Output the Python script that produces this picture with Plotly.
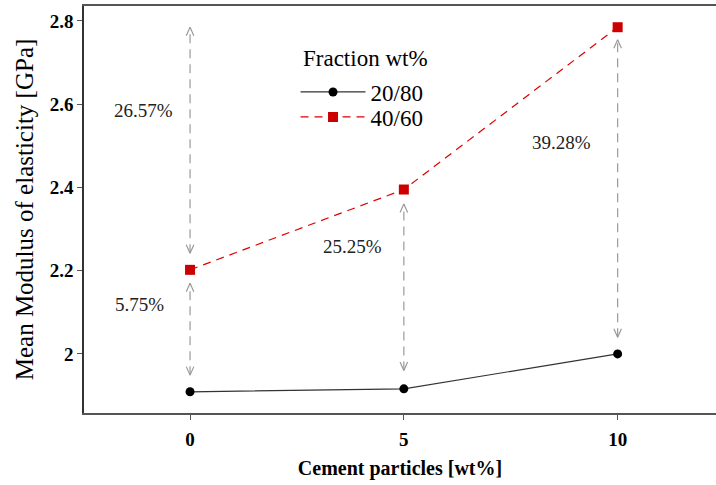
import plotly.graph_objects as go

# ---- data ----
cement = [0, 5, 10]
series_names = ["20/80", "40/60"]
modulus_20_80 = [1.909, 1.916, 2.0]
modulus_40_60 = [2.202, 2.395, 2.785]
pct_labels = ["26.57%", "5.75%", "25.25%", "39.28%"]
legend_title = "Fraction wt%"

FONT = "Liberation Serif"
GREY = "#9a9a9a"

fig = go.Figure()

fig.add_trace(go.Scatter(
    x=cement, y=modulus_20_80, name=series_names[0], mode="lines+markers",
    line=dict(color="#333333", width=1.2),
    marker=dict(symbol="circle", size=9, color="black"),
    legend="legend",
))
fig.add_trace(go.Scatter(
    x=cement, y=modulus_40_60, name=series_names[1], mode="lines+markers",
    line=dict(color="#e00000", width=1.2, dash="8px,6px"),
    marker=dict(symbol="square", size=10, color="#cc0000"),
    legend="legend2",
))

# ---- comparison arrows (derived from data) ----
arrows = [
    (cement[0], modulus_40_60[0], modulus_40_60[2], 0.04, 0.0),
    (cement[0], modulus_20_80[0], modulus_40_60[0], 0.04, 0.032),
    (cement[1], modulus_20_80[1], modulus_40_60[1], 0.044, 0.035),
    (cement[2], modulus_20_80[2], modulus_40_60[2], 0.04, 0.03),
]
xr = [-2.48, 12.3]
yr = [1.858, 2.836]
plot_w = 716 - 84
plot_h = 485 - 6 - 72
px_x = (xr[1] - xr[0]) / plot_w
px_y = (yr[1] - yr[0]) / plot_h
dx = 3.8 * px_x
dy = 8.5 * px_y

for (x, y0, y1, g0, g1) in arrows:
    lo = y0 + g0
    hi = y1 - g1
    fig.add_trace(go.Scatter(
        x=[x, x], y=[lo, hi], mode="lines", showlegend=False, hoverinfo="skip",
        line=dict(color=GREY, width=1.2, dash="9px,6px"),
    ))
    fig.add_trace(go.Scatter(
        x=[x - dx, x, x + dx, None, x - dx, x, x + dx],
        y=[hi - dy, hi, hi - dy, None, lo + dy, lo, lo + dy],
        mode="lines", showlegend=False, hoverinfo="skip",
        line=dict(color=GREY, width=1.2),
    ))

label_pos = [(-1.1, 2.586), (-1.19, 2.118), (3.79, 2.258), (8.69, 2.509)]
for (lx, ly), t in zip(label_pos, pct_labels):
    fig.add_annotation(x=lx, y=ly, text=t, showarrow=False,
                       font=dict(family=FONT, size=19, color="#222"))

# legend title
fig.add_annotation(xref="paper", yref="paper", x=0.3429, y=0.8698,
                   xanchor="left", yanchor="middle", text=legend_title,
                   showarrow=False, font=dict(family=FONT, size=23, color="black"))

leg_common = dict(
    font=dict(family=FONT, size=23, color="black"),
    x=0.3347, xanchor="left", yanchor="middle",
    bgcolor="rgba(0,0,0,0)", tracegroupgap=0, itemwidth=65, borderwidth=0,
)
fig.update_layout(
    width=716, height=485,
    margin=dict(l=84, r=0, t=6, b=72, autoexpand=False),
    plot_bgcolor="white", paper_bgcolor="white",
    font=dict(family=FONT, color="black"),
    legend=dict(y=0.7887, **leg_common),
    legend2=dict(y=0.7273, **leg_common),
)
fig.update_xaxes(
    range=xr, tickvals=cement, ticktext=[str(c) for c in cement],
    showline=True, linecolor="#555", linewidth=1.5, mirror=True,
    ticks="outside", ticklen=5, tickcolor="#555", ticklabelstandoff=3,
    showgrid=False, zeroline=False, automargin=True,
    tickfont=dict(family=FONT, size=19, weight="bold"),
    title=dict(text="Cement particles [wt%]",
               font=dict(family=FONT, size=20, weight="bold"), standoff=12),
)
fig.update_yaxes(
    range=yr, tickvals=[2, 2.2, 2.4, 2.6, 2.8], ticktext=["2", "2.2", "2.4", "2.6", "2.8"],
    showline=True, linecolor="#333", linewidth=1.5,
    ticks="outside", ticklen=5, tickcolor="#555",
    showgrid=False, zeroline=False, automargin=True,
    tickfont=dict(family=FONT, size=19, weight="bold"),
    title=dict(text="Mean Modulus of elasticity [GPa]",
               font=dict(family=FONT, size=25), standoff=9),
)

fig.write_html("out.html", config={"displayModeBar": False},
               post_script="document.body.style.margin='0';")
